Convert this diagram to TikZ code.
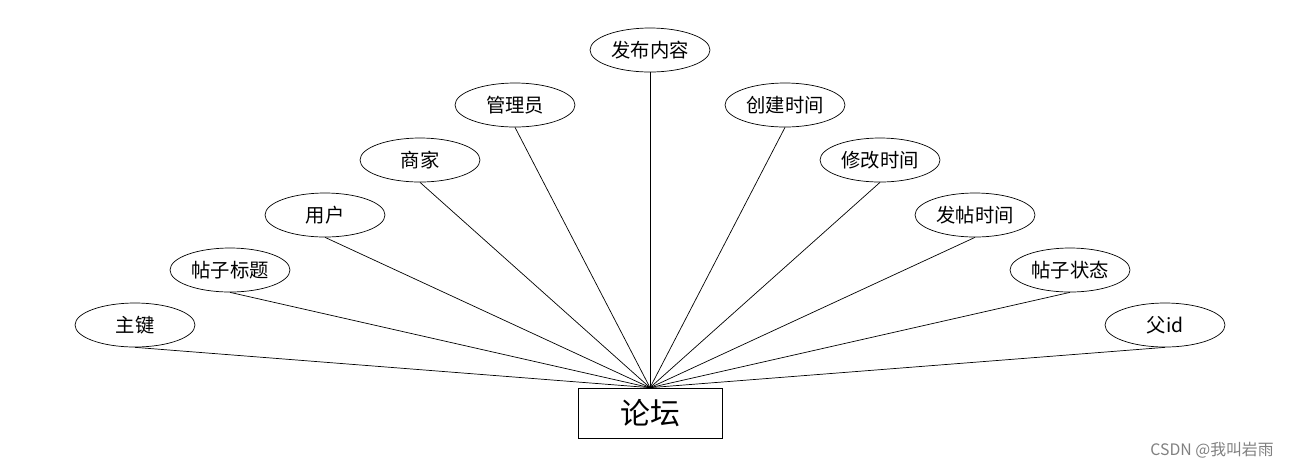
\documentclass[tikz,border=0pt]{standalone}
\usepackage{fontspec}
\setmainfont{Noto Sans CJK SC}
\usetikzlibrary{shapes.geometric}

\begin{document}
\begin{tikzpicture}[x=0.02cm,y=-0.02cm,
    attr/.style={ellipse,draw,thin,minimum width=2.4cm,minimum height=0.88cm,inner sep=0pt,font=\fontsize{11}{13}\selectfont},
    entity/.style={rectangle,draw,thin,minimum width=2.88cm,minimum height=1cm,font=\fontsize{17}{20}\selectfont}]
   \useasboundingbox (0,0) rectangle (1300,468);
   \node[entity] (forum) at (650,413) {论坛};
   \node[attr] (pk) at (135,325) {主键};
   \node[attr] (title) at (230,270) {帖子标题};
   \node[attr] (user) at (325,215) {用户};
   \node[attr] (shop) at (420,160) {商家};
   \node[attr] (admin) at (515,105) {管理员};
   \node[attr] (content) at (650,50) {发布内容};
   \node[attr] (ctime) at (785,105) {创建时间};
   \node[attr] (mtime) at (880,160) {修改时间};
   \node[attr] (ptime) at (975,215) {发帖时间};
   \node[attr] (state) at (1070,270) {帖子状态};
   \node[attr] (parent) at (1165,325) {父id};
   \node[text=gray,font=\fontsize{9}{11}\selectfont] (mark) at (1212,450) {CSDN @我叫岩雨};
   % connectors
   \foreach \a in {pk,title,user,shop,admin,content,ctime,mtime,ptime,state,parent}
      \draw[thin] (\a.south) -- (forum.north);
\end{tikzpicture}
\end{document}
